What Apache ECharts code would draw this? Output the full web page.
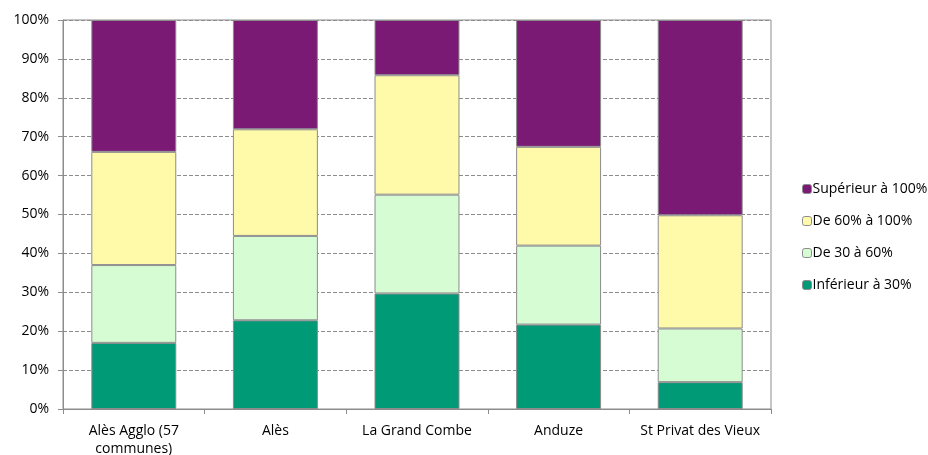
<!DOCTYPE html>
<html>
<head>
<meta charset="utf-8">
<style>
  html, body { margin: 0; padding: 0; background: #fff; }
  #chart { width: 928px; height: 455px; }
</style>
<script src="https://cdn.jsdelivr.net/npm/echarts@6/dist/echarts.min.js"></script>
</head>
<body>
<div id="chart"></div>
<script>
  // categories and series values (in %)
  var categories = ['Alès Agglo (57\ncommunes)', 'Alès', 'La Grand Combe', 'Anduze', 'St Privat des Vieux'];
  var inferieur30 = [17.0, 22.8, 29.7, 21.7, 6.9];
  var de30a60 = [20.0, 21.7, 25.4, 20.3, 13.8];
  var de60a100 = [29.1, 27.4, 30.7, 25.4, 29.1];
  var superieur100 = [33.9, 28.1, 14.2, 32.6, 50.2];
  var yTicks = [0, 10, 20, 30, 40, 50, 60, 70, 80, 90, 100];

  var font = '"Open Sans", sans-serif';

  function mkSeries(name, data, color) {
    return {
      name: name,
      type: 'bar',
      stack: 'total',
      barWidth: '60%',
      data: data,
      itemStyle: { color: color, borderColor: '#8c8c8c', borderWidth: 1 }
    };
  }

  var myChart = echarts.init(document.getElementById('chart'));
  myChart.setOption({
    animation: false,
    textStyle: { fontFamily: font },
    grid: {
      left: 63, right: 157, top: 20, bottom: 46,
      outerBoundsMode: 'none',
      show: true, borderColor: '#8c8c8c', borderWidth: 1
    },
    legend: {
      orient: 'vertical',
      left: 797, top: 177,
      itemWidth: 9, itemHeight: 9, itemGap: 18,
      textStyle: { fontSize: 14, color: '#000', fontFamily: font, padding: [0, 0, 0, -4] },
      data: ['Supérieur à 100%', 'De 60% à 100%', 'De 30 à 60%', 'Inférieur à 30%'],
      itemStyle: { borderColor: '#8c8c8c', borderWidth: 1 }
    },
    xAxis: {
      type: 'category',
      data: categories,
      axisLine: { lineStyle: { color: '#8c8c8c', width: 1 } },
      axisTick: { show: true, length: 5, lineStyle: { color: '#8c8c8c' } },
      axisLabel: { fontSize: 14, color: '#000', lineHeight: 18, margin: 13, fontFamily: font, interval: 0 }
    },
    yAxis: {
      type: 'value',
      min: 0, max: 100, interval: 10,
      axisLine: { show: true, lineStyle: { color: '#8c8c8c', width: 1 } },
      axisTick: { show: true, length: 5, lineStyle: { color: '#8c8c8c' } },
      axisLabel: {
        fontSize: 14, color: '#000', margin: 14, fontFamily: font,
        formatter: function (v) { return yTicks.indexOf(v) >= 0 ? v + '%' : ''; }
      },
      splitLine: { show: true, lineStyle: { color: '#8c8c8c', type: [4, 2], width: 1 } }
    },
    series: [
      mkSeries('Inférieur à 30%', inferieur30, '#019a77'),
      mkSeries('De 30 à 60%', de30a60, '#d5fcd3'),
      mkSeries('De 60% à 100%', de60a100, '#fffaa9'),
      mkSeries('Supérieur à 100%', superieur100, '#7b1a74')
    ]
  });
</script>
</body>
</html>
